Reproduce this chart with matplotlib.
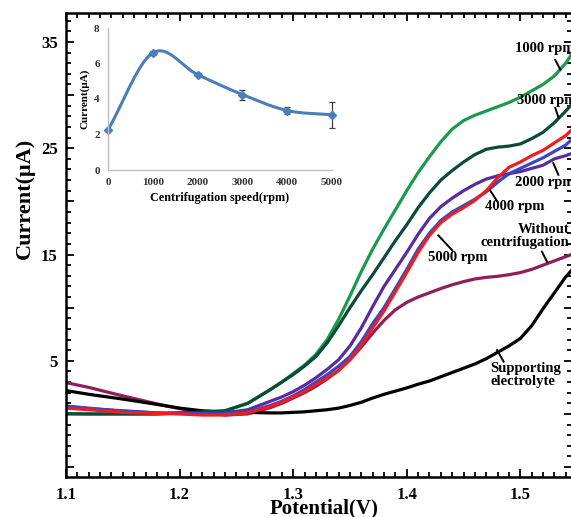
import matplotlib.pyplot as plt
import numpy as np
from matplotlib.ticker import MultipleLocator, FuncFormatter

plt.rcParams.update({
    "font.family": "serif", "font.serif": ["Liberation Serif", "DejaVu Serif"],
    "font.weight": "bold", "mathtext.default": "regular",
})

# ---- main chart: linear sweep, current vs potential ----
potential = [1.10, 1.12, 1.15, 1.18, 1.20, 1.22, 1.24, 1.26, 1.28, 1.29, 1.30, 1.31, 1.32,
             1.33, 1.34, 1.35, 1.36, 1.37, 1.38, 1.39, 1.40, 1.41, 1.42, 1.43, 1.44, 1.45,
             1.46, 1.47, 1.48, 1.49, 1.50, 1.51, 1.52, 1.53, 1.54, 1.545]

rpm_1000 = [0.05, 0.0, 0.0, 0.0, 0.1, 0.15, 0.3, 1.0, 2.3, 3.0, 3.8, 4.6, 5.6,
            7.0, 8.9, 11.1, 13.4, 15.5, 17.4, 19.2, 21.0, 22.7, 24.2, 25.6, 26.8, 27.6,
            28.1, 28.5, 28.9, 29.3, 29.8, 30.4, 31.0, 31.8, 33.0, 33.8]
rpm_3000 = [0.0, 0.0, 0.0, 0.0, 0.1, 0.15, 0.3, 1.0, 2.3, 3.0, 3.7, 4.5, 5.4,
            6.7, 8.3, 10.0, 11.6, 13.1, 14.7, 16.3, 17.8, 19.4, 20.8, 22.0, 22.9, 23.7,
            24.4, 24.9, 25.1, 25.2, 25.4, 25.9, 26.5, 27.4, 28.5, 29.1]
rpm_2000 = [0.7, 0.5, 0.3, 0.1, 0.05, 0.0, 0.1, 0.4, 1.2, 1.6, 2.1, 2.7, 3.4,
            4.2, 5.1, 6.4, 8.1, 10.1, 12.0, 13.6, 15.2, 16.9, 18.4, 19.5, 20.3, 21.0,
            21.6, 22.1, 22.4, 22.6, 22.8, 23.1, 23.4, 24.0, 24.3, 24.5]
rpm_4000 = [0.75, 0.55, 0.25, 0.1, 0.05, 0.0, 0.0, 0.2, 0.8, 1.2, 1.7, 2.3, 3.0,
            3.7, 4.5, 5.4, 6.8, 8.5, 10.0, 11.8, 13.6, 15.5, 17.0, 18.2, 19.0, 19.6,
            20.2, 20.9, 21.8, 22.6, 23.1, 23.6, 24.1, 24.7, 25.3, 25.8]
rpm_5000 = [0.55, 0.4, 0.15, 0.05, 0.0, -0.1, -0.1, 0.1, 0.7, 1.1, 1.6, 2.1, 2.8,
            3.4, 4.1, 5.1, 6.5, 8.1, 9.7, 11.5, 13.3, 15.2, 16.8, 18.0, 18.8, 19.4,
            20.1, 21.0, 22.2, 23.2, 23.7, 24.3, 24.8, 25.5, 26.2, 26.7]
no_centrif = [2.95, 2.5, 1.7, 0.95, 0.5, 0.15, -0.1, 0.0, 0.6, 1.0, 1.5, 2.0, 2.6,
              3.3, 4.1, 5.1, 6.3, 7.6, 8.8, 9.8, 10.5, 11.0, 11.4, 11.8, 12.15, 12.45,
              12.7, 12.85, 12.95, 13.1, 13.3, 13.6, 14.0, 14.4, 14.8, 15.0]
supporting = [2.2, 1.85, 1.4, 0.9, 0.55, 0.3, 0.2, 0.15, 0.1, 0.1, 0.15, 0.2, 0.3,
              0.4, 0.55, 0.8, 1.1, 1.5, 1.85, 2.15, 2.45, 2.8, 3.1, 3.5, 3.9, 4.3,
              4.7, 5.2, 5.8, 6.4, 7.1, 8.3, 9.9, 11.4, 12.9, 13.5]

# ---- inset: peak current vs centrifugation speed ----
speed = [0, 1000, 2000, 3000, 4000, 5000]
peak_current = [2.26, 6.6, 5.37, 4.25, 3.35, 3.11]
peak_err = [0.05, 0.1, 0.08, 0.28, 0.19, 0.73]


def catmull_rom(x, y, n=30):
    # smoothed line like the spreadsheet "smooth line" option
    x = np.asarray(x, float); y = np.asarray(y, float)
    px = np.r_[2 * x[0] - x[1], x, 2 * x[-1] - x[-2]]
    py = np.r_[2 * y[0] - y[1], y, 2 * y[-1] - y[-2]]
    xs, ys = [], []
    t = np.linspace(0, 1, n)
    for i in range(1, len(px) - 2):
        for p, out in ((px, xs), (py, ys)):
            p0, p1, p2, p3 = p[i - 1], p[i], p[i + 1], p[i + 2]
            out.extend(0.5 * (2 * p1 + (-p0 + p2) * t + (2 * p0 - 5 * p1 + 4 * p2 - p3) * t ** 2
                              + (-p0 + 3 * p1 - 3 * p2 + p3) * t ** 3))
    return xs, ys


fig = plt.figure(figsize=(5.71, 5.17), dpi=100)
ax = fig.add_axes([66 / 571, 40 / 517, 506 / 571, 464 / 517])

lw = 2.3
ax.plot(potential, no_centrif, color="#8E1E5C", lw=lw)
ax.plot(potential, supporting, color="#000000", lw=lw)
ax.plot(potential, rpm_1000, color="#1C9A4C", lw=lw)
ax.plot(potential, rpm_3000, color="#0D4A3A", lw=lw)
ax.plot(potential, rpm_2000, color="#5A2C9E", lw=lw)
ax.plot(potential, rpm_4000, color="#3448C8", lw=lw)
ax.plot(potential, rpm_5000, color="#F21C1C", lw=lw)

ax.set_xlim(1.1, 1.5455)
ax.set_ylim(-5.93, 37.72)
ax.xaxis.set_major_locator(MultipleLocator(0.1))
ax.xaxis.set_minor_locator(MultipleLocator(0.01))
ax.yaxis.set_major_locator(MultipleLocator(5))
ax.yaxis.set_minor_locator(MultipleLocator(1))
ax.xaxis.set_major_formatter(FuncFormatter(lambda v, p: f"{v:.1f}"))
ax.yaxis.set_major_formatter(
    FuncFormatter(lambda v, p: f"{v:.0f}" if v > 0 and round(v) % 10 == 5 else ""))
ax.tick_params(which="both", direction="in", top=True, right=True, width=1.3, labelsize=12)
ax.tick_params(which="major", length=6)
ax.tick_params(which="minor", length=3.5)
ax.tick_params(axis="x", pad=7)
ax.tick_params(axis="y", pad=6)
for s in ax.spines.values():
    s.set_linewidth(1.8)

ax.set_xlabel("Potential(V)", fontsize=15, fontweight="bold")
ax.set_ylabel("Current(μA)", fontsize=16, fontweight="bold")
ax.xaxis.set_label_coords(0.51, -0.046)
ax.yaxis.set_label_coords(-0.062, 0.6)

tk = dict(fontsize=10.5, fontweight="bold", va="center")
ax.text(1.4956, 34.4, "1000 rpm", ha="left", **tk)
ax.text(1.4974, 29.5, "3000 rpm", ha="left", **tk)
ax.text(1.4956, 21.8, "2000 rpm", ha="left", **tk)
ax.text(1.4692, 19.5, "4000 rpm", ha="left", **tk)
ax.text(1.419, 14.7, "5000 rpm", ha="left", **tk)
ax.text(1.5432, 16.7, "Without\ncentrifugation", ha="right", multialignment="right",
        linespacing=1.0, **tk)
ax.text(1.4736, 3.67, "Supporting\nelectrolyte", ha="left", linespacing=1.0, **tk)
for (x0, y0), (x1, y1) in [((1.5308, 33.3), (1.5352, 32.4)),
                           ((1.5308, 28.8), (1.5335, 27.9)),
                           ((1.529, 23.6), (1.5335, 22.5)),
                           ((1.4736, 21.0), (1.4797, 20.0)),
                           ((1.4278, 16.8), (1.440, 15.4)),
                           ((1.519, 15.27), (1.5235, 14.33)),
                           ((1.4795, 6.02), (1.4853, 4.92))]:
    ax.plot([x0, x1], [y0, y1], color="black", lw=1.4)

# ---- inset ----
ins = fig.add_axes([108 / 571, 1 - 170 / 517, 224 / 571, 142 / 517])
ins.patch.set_alpha(0)
sx, sy = catmull_rom(speed, peak_current)
ins.plot(sx, sy, color="#4A7EBB", lw=2.2, clip_on=False)
ins.errorbar(speed, peak_current, yerr=peak_err, fmt="D", color="#4A7EBB", ms=4.5,
             ecolor="#404040", elinewidth=0.9, capsize=2.5, capthick=0.9, clip_on=False)
ins.set_xlim(0, 5000)
ins.set_ylim(0, 8)
ins.set_xticks(speed)
ins.set_yticks([0, 2, 4, 6, 8])
for s in ("top", "right"):
    ins.spines[s].set_visible(False)
for s in ("left", "bottom"):
    ins.spines[s].set_color("#BFBFBF")
    ins.spines[s].set_linewidth(1.0)
ins.tick_params(length=0, labelsize=8, labelcolor="#333333", pad=6)
ins.set_xlabel("Centrifugation speed(rpm)", fontsize=8.7, fontweight="bold", labelpad=3)
ins.set_ylabel("Current(μA)", fontsize=8, fontweight="bold", labelpad=3)

fig.savefig("out.png", dpi=100)
